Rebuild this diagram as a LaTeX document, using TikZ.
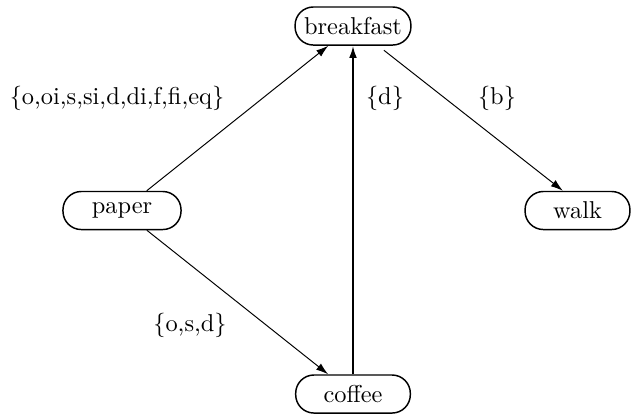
\documentclass[tikz,border=0pt]{standalone}
\usetikzlibrary{arrows.meta}
\begin{document}
\begin{tikzpicture}[x=0.41pt,y=-0.41pt,
  state/.style={draw,line width=0.6pt,rounded corners=7.5pt,inner sep=0pt,minimum height=15.6pt,font=\normalsize},
  conn/.style={line width=0.4pt,-{Latex[length=5pt,width=3.2pt]}},
  lbl/.style={inner sep=0pt}]
\useasboundingbox (0,0) rectangle (632,415);
\node[state,minimum width=47.5pt] (breakfast) at (353,26) {breakfast};
\node[state,minimum width=48.4pt] (paper) at (122,210.5) {paper};
\node[state,minimum width=43pt] (walk) at (577.5,210.5) {walk};
\node[state,minimum width=47pt] (coffee) at (353,394) {coffee};
\draw[conn] (paper) -- (breakfast);
\draw[conn,shorten <=3pt] (breakfast) -- ([xshift=-6pt]walk.north);
\draw[conn] (paper) -- (coffee);
\draw[conn,line width=0.8pt] (coffee) -- (breakfast);
\node[lbl] (l1) at (117,98) {$\{$o,oi,s,si,d,di,f,fi,eq$\}$};
\node[lbl] (l2) at (385,98) {$\{$d$\}$};
\node[lbl] (l3) at (497,98) {$\{$b$\}$};
\node[lbl] (l4) at (190,325) {$\{$o,s,d$\}$};
\end{tikzpicture}
\end{document}
